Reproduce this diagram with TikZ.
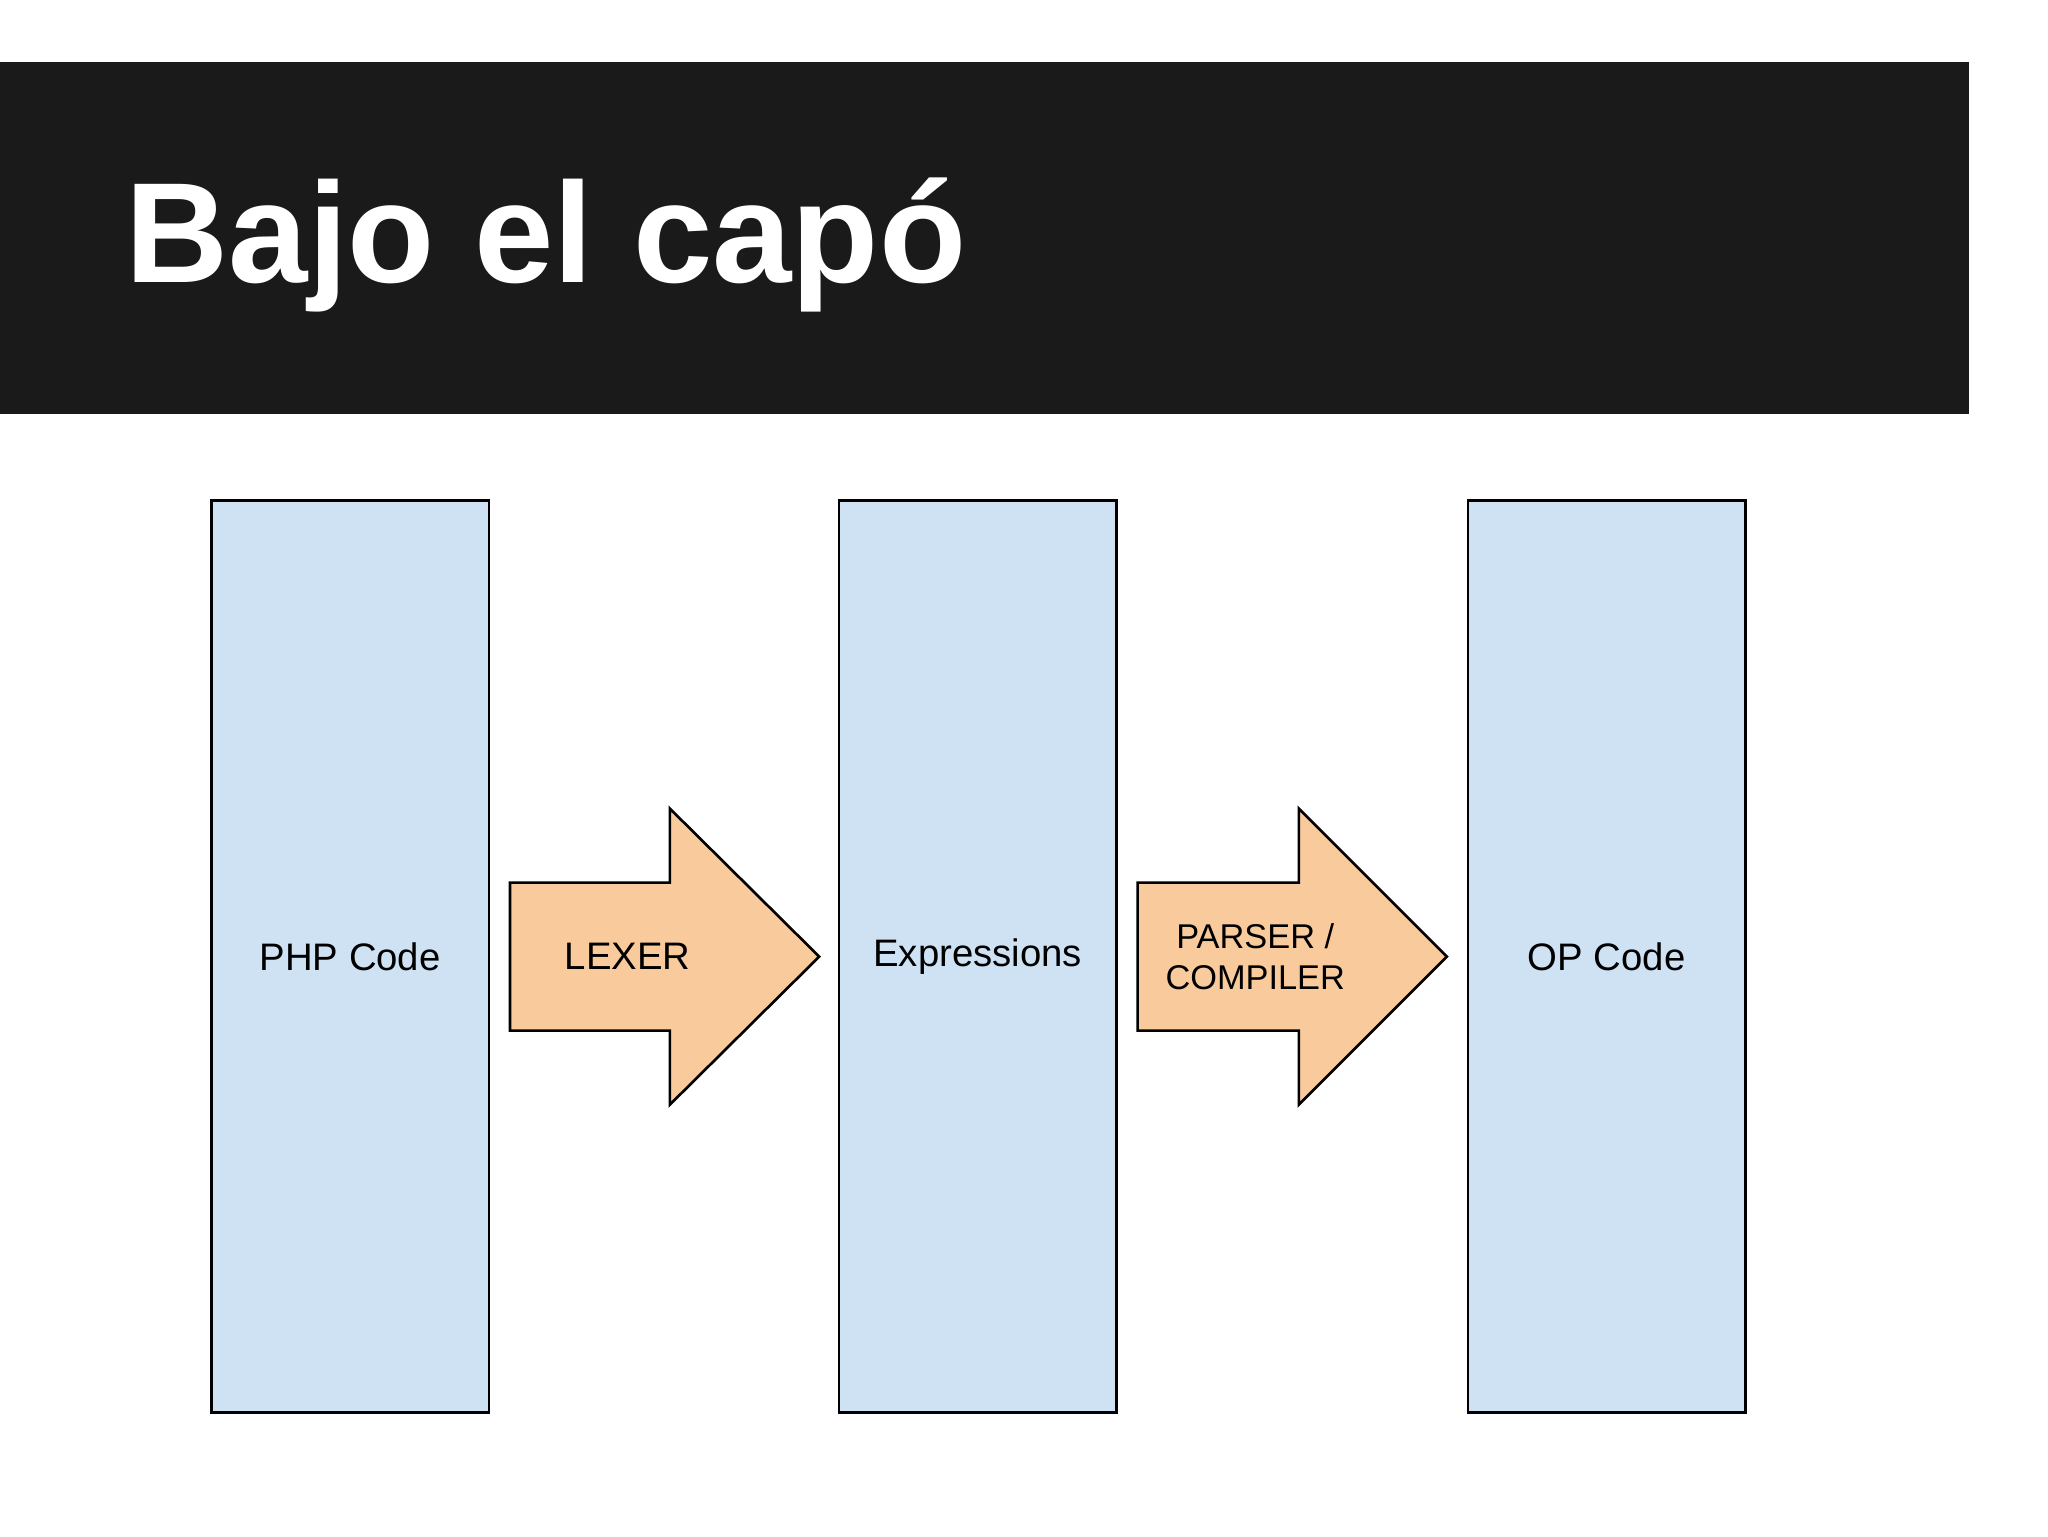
\documentclass[tikz,border=0pt]{standalone}
\usepackage{fontspec}
\setmainfont{Liberation Sans}
\begin{document}
\begin{tikzpicture}[x=1pt,y=-1pt,
  col/.style={draw=black,line width=2pt,fill=boxblue,minimum width=210pt,minimum height=690pt,inner sep=0pt,font=\fontsize{29}{34}\selectfont},
  arr/.style={draw=black,line width=2pt,fill=arrorange,line join=miter},
  lbl/.style={font=\fontsize{29}{34}\selectfont,align=center}]
\definecolor{boxblue}{HTML}{CFE2F3}
\definecolor{arrorange}{HTML}{F9CB9C}
\definecolor{band}{HTML}{1A1A1A}
\useasboundingbox (0,0) rectangle (1550,1163);
\fill[white] (0,0) rectangle (1550,1163);
\fill[band] (0,47) rectangle (1490,313);
\node[anchor=base west,text=white,font=\fontsize{108}{120}\selectfont\bfseries,inner sep=0pt] (title) at (95,214) {Bajo el capó};
\node[col] (php) at (265,724) {PHP Code};
\node[col] (expr) at (740,724) {Expressions};
\node[col] (op) at (1216,724) {OP Code};
\draw[arr] (386,668) -- (507,668) -- (507,612) -- (620,724) -- (507,836) -- (507,780) -- (386,780) -- cycle;
\draw[arr] (861,668) -- (983,668) -- (983,612) -- (1095,724) -- (983,836) -- (983,780) -- (861,780) -- cycle;
\node[lbl] (lexer) at (475,724) {LEXER};
\node[lbl,font=\fontsize{26}{31}\selectfont] (parser) at (950,724) {PARSER /\\COMPILER};
\end{tikzpicture}
\end{document}
